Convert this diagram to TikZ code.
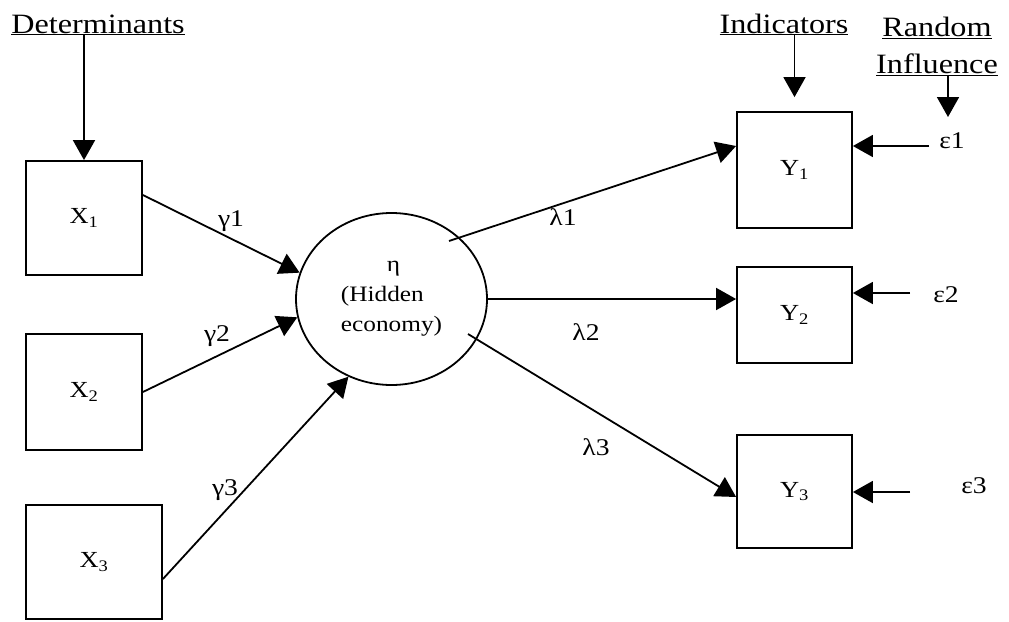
\documentclass[tikz,border=0pt]{standalone}
\usepackage{fontspec}
\setmainfont{Liberation Serif}[FakeStretch=1.15]
\usetikzlibrary{arrows.meta,shapes.geometric}
\begin{document}
\begin{tikzpicture}[x=1pt,y=-1pt,
  box/.style={draw,line width=1.8pt,inner sep=0pt,font=\fontsize{23}{27}\selectfont},
  conn/.style={line width=1.8pt,-{Triangle[length=20pt,width=22pt]}},
  head/.style={font=\fontsize{28}{37}\selectfont,inner sep=0pt},
  lab/.style={font=\fontsize{24}{28}\selectfont,inner sep=0pt}]
\useasboundingbox (0,0) rectangle (1009,621);

% headings
\node[head,anchor=base] (det) at (98,33) {\underline{Determinants}};
\node[head,anchor=base] (ind) at (784,33) {\underline{Indicators}};
\node[head,align=center] (ri) at (937,46) {\underline{Random}\\\underline{Influence}};

% determinant boxes
\node[box,minimum width=116pt,minimum height=114pt] (x1) at (84,218) {\raisebox{-6pt}{X\textsubscript{1}}};
\node[box,minimum width=116pt,minimum height=116pt] (x2) at (84,392) {\raisebox{-6pt}{X\textsubscript{2}}};
\node[box,minimum width=136pt,minimum height=114pt] (x3) at (94,562) {\raisebox{-5pt}{X\textsubscript{3}}};

% latent variable
\node[draw,ellipse,line width=1.8pt,minimum width=191pt,minimum height=172pt,inner sep=0pt,
      align=left,font=\fontsize{22}{30}\selectfont] (eta) at (391.5,299)
      {\hspace*{46pt}η\\(Hidden\\economy)};

% indicator boxes
\node[box,minimum width=115pt,minimum height=116pt] (y1) at (794.5,170) {\raisebox{-7pt}{Y\textsubscript{1}}};
\node[box,minimum width=115pt,minimum height=96pt] (y2) at (794.5,315) {\raisebox{-14pt}{Y\textsubscript{2}}};
\node[box,minimum width=115pt,minimum height=113pt] (y3) at (794.5,491.5) {\raisebox{-6pt}{Y\textsubscript{3}}};

% error terms
\node[lab,anchor=base] (e1) at (952,148) {ε1};
\node[lab,anchor=base] (e2) at (946,302) {ε2};
\node[lab,anchor=base] (e3) at (974,493) {ε3};

% path coefficient labels
\node[lab,anchor=base] (g1) at (231,226) {γ1};
\node[lab,anchor=base] (g2) at (217,341) {γ2};
\node[lab,anchor=base] (g3) at (225,495) {γ3};
\node[lab,anchor=base] (l1) at (563,225) {λ1};
\node[lab,anchor=base] (l2) at (586,340) {λ2};
\node[lab,anchor=base] (l3) at (596,455) {λ3};

% free ends
\coordinate (l1s) at (449,241);
\coordinate (l3s) at (468,334);
\coordinate (rtip) at (948,117);
\coordinate (s1) at (929,146);
\coordinate (s2) at (910,293);
\coordinate (s3) at (910,492);

% connectors
\draw[conn] (det.south -| x1.north) -- (x1.north);
\draw[conn] (ind.south -| y1.north) -- ([yshift=14pt]y1.north);
\draw[conn] (ri.south -| rtip) -- (rtip);

\draw[conn] ([yshift=23pt]x1.east) -- (eta.164);
\draw[conn] (x2.east) -- (eta.191);
\draw[conn] ([yshift=-17pt]x3.east) -- (eta.241);

\draw[conn] (l1s) -- ([yshift=24pt]y1.west);
\draw[conn] (eta.east) -- ([yshift=16pt]y2.west);
\draw[conn] (l3s) -- ([yshift=-5.5pt]y3.west);

\draw[conn] (s1) -- (y1.east |- s1);
\draw[conn] (s2) -- (y2.east |- s2);
\draw[conn] (s3) -- (y3.east |- s3);
\end{tikzpicture}
\end{document}
